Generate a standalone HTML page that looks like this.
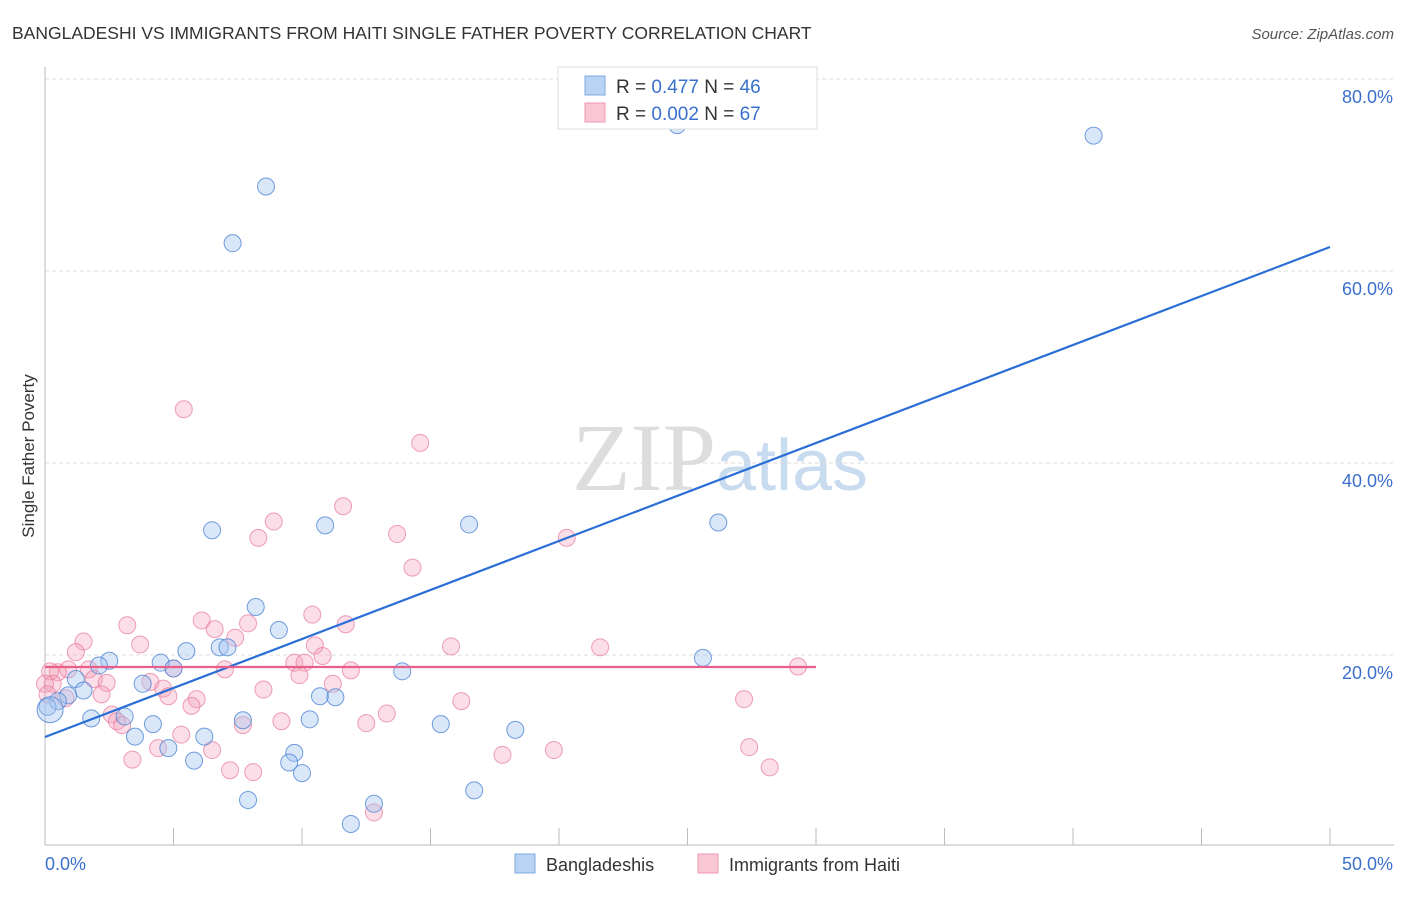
<!DOCTYPE html>
<html><head><meta charset="utf-8">
<style>
body{margin:0;background:#fff;font-family:"Liberation Sans",sans-serif;}
svg text{font-family:"Liberation Sans",sans-serif;}
</style></head><body>
<svg id="chart" width="1406" height="892" xmlns="http://www.w3.org/2000/svg">
<text x="12" y="39" font-size="17.5" fill="#333">BANGLADESHI VS IMMIGRANTS FROM HAITI SINGLE FATHER POVERTY CORRELATION CHART</text>
<text x="1394" y="39" font-size="15" fill="#555" text-anchor="end" font-style="italic">Source: ZipAtlas.com</text>
<text x="720" y="490" font-size="96" text-anchor="middle"><tspan fill="#ddd" font-family="Liberation Serif">ZIP</tspan><tspan fill="#c9dcef" font-size="72">atlas</tspan></text>
<g id="grid"></g>
<g id="axes"></g>
<g id="pts"></g>
<g id="trend"></g>
<text transform="translate(34,456) rotate(-90)" font-size="17" fill="#333" text-anchor="middle">Single Father Poverty</text>
<g>
<rect x="558" y="67" width="259" height="62" fill="#fff" stroke="#ddd"/>
<rect x="585" y="76" width="20" height="19" fill="#b8d3f3" stroke="#7fa8dc"/>
<rect x="585" y="103" width="20" height="19" fill="#f9c6d4" stroke="#ee9ab2"/>
<text x="616" y="93" font-size="19" fill="#333">R = <tspan fill="#3a70cc">0.477</tspan>   N = <tspan fill="#3a70cc">46</tspan></text>
<text x="616" y="120" font-size="19" fill="#333">R = <tspan fill="#3a70cc">0.002</tspan>   N = <tspan fill="#3a70cc">67</tspan></text>
</g>
<g>
<rect x="515" y="854" width="20" height="19" fill="#b8d3f3" stroke="#7fa8dc"/>
<text x="546" y="871" font-size="18" fill="#333">Bangladeshis</text>
<rect x="698" y="854" width="20" height="19" fill="#f9c6d4" stroke="#ee9ab2"/>
<text x="729" y="871" font-size="18" fill="#333">Immigrants from Haiti</text>
</g>
</svg>
<script>
const yTicks=[20,40,60,80];
const yTickLabels=["20.0%","40.0%","60.0%","80.0%"];
const xTickLabels=["0.0%","50.0%"];
const blueX=[24.6,40.8,8.6,7.3,6.5,10.9,16.5,26.2,8.2,9.1,6.8,7.1,5.5,4.5,2.5,5.0,2.1,1.2,13.9,25.6,3.8,1.5,0.9,0.5,0.1,10.7,11.3,3.1,1.8,7.7,4.2,10.3,15.4,18.3,3.5,6.2,4.8,9.7,9.5,5.8,10.0,7.9,12.8,16.7,11.9,0.2];
const blueY=[75.2,74.1,68.8,62.9,33.0,33.5,33.6,33.8,25.0,22.6,20.8,20.8,20.4,19.2,19.4,18.6,18.9,17.5,18.3,19.7,17.0,16.3,15.8,15.2,14.6,15.7,15.6,13.6,13.4,13.2,12.8,13.3,12.8,12.2,11.5,11.5,10.3,9.8,8.8,9.0,7.7,4.9,4.5,5.9,2.4,14.3];
const pinkX=[5.4,14.6,11.6,8.9,8.3,13.7,20.3,14.3,10.4,11.7,3.2,6.1,7.4,1.5,6.6,7.9,3.7,15.8,21.6,1.2,10.5,10.8,9.7,10.1,0.9,5.0,1.7,7.0,11.9,0.5,29.3,0.2,9.9,1.9,2.4,4.1,4.6,0.3,8.5,11.2,5.9,4.8,16.2,27.2,2.2,5.7,2.6,13.3,2.8,9.2,12.5,3.0,7.7,5.3,4.4,6.5,19.8,17.8,27.4,3.4,7.2,8.1,28.2,12.8,0.0,0.8,0.1];
const pinkY=[45.6,42.1,35.5,33.9,32.2,32.6,32.2,29.1,24.2,23.2,23.1,23.6,21.8,21.4,22.7,23.3,21.1,20.9,20.8,20.3,21.0,19.9,19.2,19.2,18.5,18.6,18.5,18.5,18.4,18.2,18.8,18.3,17.9,17.5,17.1,17.2,16.5,17.0,16.4,17.0,15.4,15.7,15.2,15.4,15.9,14.7,13.8,13.9,13.1,13.1,12.9,12.7,12.7,11.7,10.3,10.1,10.1,9.6,10.4,9.1,8.0,7.8,8.3,3.6,17.0,15.5,15.9];
const NS="http://www.w3.org/2000/svg";
const X0=45,X1=1330,YB=847,PPY=9.6;
function sx(v){return X0+(X1-X0)*v/50;}
function sy(v){return YB-v*PPY;}
function mk(tag,attrs,parent){const e=document.createElementNS(NS,tag);for(const k in attrs)e.setAttribute(k,attrs[k]);parent.appendChild(e);return e;}
const grid=document.getElementById('grid'),axes=document.getElementById('axes'),pts=document.getElementById('pts'),trend=document.getElementById('trend');
yTicks.forEach((t,i)=>{
 const l=mk('line',{x1:45,x2:1394,y1:sy(t),y2:sy(t),stroke:'#ddd','stroke-dasharray':'4,3'},grid);
 
 
 const tx=mk('text',{x:1393,y:sy(t)+24,'font-size':18,fill:'#3a70cc','text-anchor':'end'},axes);
 tx.textContent=yTickLabels[i];
 
 
});
let a=mk('line',{x1:45,x2:45,y1:67,y2:845,stroke:'#bbb'},axes);


a=mk('line',{x1:45,x2:1394,y1:845,y2:845,stroke:'#bbb'},axes);


for(let v=0;v<=50;v+=5){
 const t=mk('line',{x1:sx(v),x2:sx(v),y1:828,y2:845,stroke:'#bbb'},axes);
 
 
}
[[0,'start',45],[50,'end',1393]].forEach((d,i)=>{
 const t=mk('text',{x:d[2],y:870,'font-size':18,fill:'#3a70cc','text-anchor':d[1]},axes);
 t.textContent=xTickLabels[i];
 
 
});
pinkX.forEach((x,i)=>{
 const c=mk('circle',{cx:sx(x),cy:sy(pinkY[i]),r:8.5,fill:'rgba(244,160,185,0.35)',stroke:'rgba(232,120,155,0.7)','stroke-width':1},pts);
 
 
});
blueX.forEach((x,i)=>{
 const c=mk('circle',{cx:sx(x),cy:sy(blueY[i]),r:i==blueX.length-1?13:8.5,fill:'rgba(160,195,240,0.4)',stroke:'rgba(70,125,210,0.75)','stroke-width':1},pts);
 
 
});
const blueTrend=[11.46,62.5], pinkTrend=[18.75,18.75,30];
let tl=mk('line',{x1:sx(0),y1:sy(blueTrend[0]),x2:sx(50),y2:sy(blueTrend[1]),stroke:'#2a6fd6','stroke-width':2.2},trend);


tl=mk('line',{x1:sx(0),y1:sy(pinkTrend[0]),x2:sx(pinkTrend[2]),y2:sy(pinkTrend[1]),stroke:'#e8608a','stroke-width':2.2},trend);


</script>
</body></html>
